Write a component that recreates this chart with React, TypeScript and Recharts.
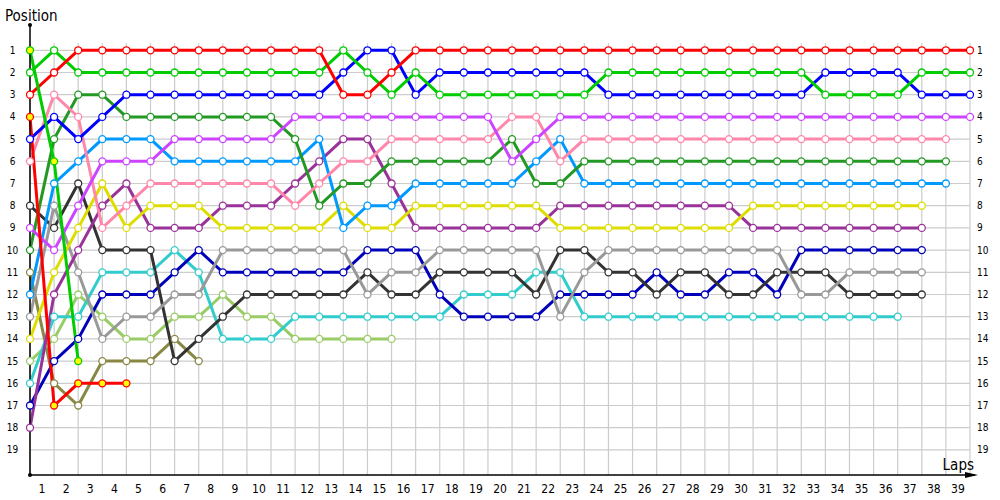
import { Line, LineChart, ReferenceLine, XAxis, YAxis } from "recharts";

// lap 0 = grid, then laps 1..39
const laps = Array.from({ length: 40 }, (_, i) => i);
const lapLabels = laps.slice(1);
const positions = Array.from({ length: 19 }, (_, i) => i + 1);

const red = [3, 2, 1, 1, 1, 1, 1, 1, 1, 1, 1, 1, 1, 3, 3, 2, 1, 1, 1, 1, 1, 1, 1, 1, 1, 1, 1, 1, 1, 1, 1, 1, 1, 1, 1, 1, 1, 1, 1, 1];
const green = [2, 1, 2, 2, 2, 2, 2, 2, 2, 2, 2, 2, 2, 1, 2, 3, 2, 3, 3, 3, 3, 3, 3, 3, 2, 2, 2, 2, 2, 2, 2, 2, 2, 3, 3, 3, 3, 2, 2, 2];
const blue = [5, 4, 5, 4, 3, 3, 3, 3, 3, 3, 3, 3, 3, 2, 1, 1, 3, 2, 2, 2, 2, 2, 2, 2, 3, 3, 3, 3, 3, 3, 3, 3, 3, 2, 2, 2, 2, 3, 3, 3];
const violet = [9, 10, 8, 6, 6, 6, 5, 5, 5, 5, 5, 4, 4, 4, 4, 4, 4, 4, 4, 4, 6, 5, 4, 4, 4, 4, 4, 4, 4, 4, 4, 4, 4, 4, 4, 4, 4, 4, 4, 4];
const pink = [6, 3, 4, 9, 8, 7, 7, 7, 7, 7, 7, 8, 7, 6, 6, 5, 5, 5, 5, 5, 4, 4, 6, 5, 5, 5, 5, 5, 5, 5, 5, 5, 5, 5, 5, 5, 5, 5, 5];
const darkGreen = [10, 5, 3, 3, 4, 4, 4, 4, 4, 4, 4, 5, 8, 7, 7, 6, 6, 6, 6, 6, 5, 7, 7, 6, 6, 6, 6, 6, 6, 6, 6, 6, 6, 6, 6, 6, 6, 6, 6];
const skyBlue = [12, 7, 6, 5, 5, 5, 6, 6, 6, 6, 6, 6, 5, 9, 8, 8, 7, 7, 7, 7, 7, 6, 5, 7, 7, 7, 7, 7, 7, 7, 7, 7, 7, 7, 7, 7, 7, 7, 7];
const yellow = [14, 11, 9, 7, 9, 8, 8, 8, 9, 9, 9, 9, 9, 8, 9, 9, 8, 8, 8, 8, 8, 8, 9, 9, 9, 9, 9, 9, 9, 9, 8, 8, 8, 8, 8, 8, 8, 8];
const purple = [18, 12, 10, 8, 7, 9, 9, 9, 8, 8, 8, 7, 6, 5, 5, 7, 9, 9, 9, 9, 9, 9, 8, 8, 8, 8, 8, 8, 8, 8, 9, 9, 9, 9, 9, 9, 9, 9];
const gray = [13, 8, 11, 14, 13, 13, 12, 12, 10, 10, 10, 10, 10, 10, 12, 11, 11, 10, 10, 10, 10, 10, 13, 11, 10, 10, 10, 10, 10, 10, 10, 10, 12, 12, 11, 11, 11, 11];
const black = [8, 9, 7, 10, 10, 10, 15, 14, 13, 12, 12, 12, 12, 12, 11, 12, 12, 11, 11, 11, 11, 12, 10, 10, 11, 11, 12, 11, 11, 12, 12, 11, 11, 11, 12, 12, 12, 12];
const darkBlue = [17, 15, 14, 12, 12, 12, 11, 10, 11, 11, 11, 11, 11, 11, 10, 10, 10, 12, 13, 13, 13, 13, 12, 12, 12, 12, 11, 12, 12, 11, 11, 12, 10, 10, 10, 10, 10, 10];
const cyan = [16, 13, 13, 11, 11, 11, 10, 11, 14, 14, 14, 13, 13, 13, 13, 13, 13, 13, 12, 12, 12, 11, 11, 13, 13, 13, 13, 13, 13, 13, 13, 13, 13, 13, 13, 13, 13];
const olive = [11, 16, 17, 15, 15, 15, 14, 15];
const lightGreen = [15, 14, 12, 13, 14, 14, 13, 13, 12, 13, 13, 14, 14, 14, 14, 14];
const redPit = [4, 17, 16, 16, 16];
const greenPit = [1, 6, 15];

const drivers = [
  { key: "olive", color: "#888844", values: olive },
  { key: "lightGreen", color: "#99cc66", values: lightGreen },
  { key: "cyan", color: "#33cccc", values: cyan },
  { key: "darkBlue", color: "#0000bb", values: darkBlue },
  { key: "black", color: "#333333", values: black },
  { key: "gray", color: "#999999", values: gray },
  { key: "purple", color: "#993399", values: purple },
  { key: "yellow", color: "#dddd00", values: yellow },
  { key: "skyBlue", color: "#0099ff", values: skyBlue },
  { key: "darkGreen", color: "#229922", values: darkGreen },
  { key: "pink", color: "#ff88aa", values: pink },
  { key: "violet", color: "#cc44ff", values: violet },
  { key: "blue", color: "#0000ff", values: blue },
  { key: "green", color: "#00cc00", values: green },
  { key: "red", color: "#ff0000", values: red },
  { key: "redPit", color: "#ff0000", values: redPit, fill: "#ffff00" },
  { key: "greenPit", color: "#00cc00", values: greenPit, fill: "#ffff00" },
];

const rows = laps.map((lap) => {
  const row: Record<string, number | null> = { lap };
  drivers.forEach((d) => {
    row[d.key] = d.values[lap] ?? null;
  });
  return row;
});

const font = "'DejaVu Sans Condensed', 'DejaVu Sans', sans-serif";
const gridColor = "#cccccc";

const LapTick = ({ x, y, payload }: any) => (
  <text x={x} y={y + 10} textAnchor="middle" fontSize={12} fontFamily={font} fill="#000">
    {payload.value + 0.5}
  </text>
);

const LeftTick = ({ x, y, payload }: any) => (
  <text x={x - 9.5} y={y + 3.5} textAnchor="middle" fontSize={10} fontFamily={font} fill="#000">
    {payload.value}
  </text>
);

const RightTick = ({ x, y, payload }: any) => (
  <text x={x - 1} y={y + 3.5} textAnchor="start" fontSize={10} fontFamily={font} fill="#000">
    {payload.value}
  </text>
);

const PositionTitle = ({ viewBox }: any) => (
  <g>
    <text x={viewBox.x + 5} y={viewBox.y - 4} fontSize={15} fontFamily={font} fill="#000">
      Position
    </text>
    <circle cx={viewBox.x + viewBox.width} cy={viewBox.y} r={2} fill="#000" />
  </g>
);

const LapsTitle = ({ viewBox }: any) => {
  const right = viewBox.x + viewBox.width;
  const base = viewBox.y;
  return (
    <g>
      <text x={right + 4} y={base - 5} textAnchor="end" fontSize={15} fontFamily={font} fill="#000">
        Laps
      </text>
      <path d={`M${right - 5},${base - 3} L${right + 8},${base} L${right - 5},${base + 3} Z`} fill="#000" />
      <line x1={right} y1={base} x2={right + 5} y2={base} stroke="#000" strokeWidth={1.5} />
      <circle cx={viewBox.x} cy={base} r={2} fill="#000" />
    </g>
  );
};

export default function App() {
  return (
    <div style={{ position: "absolute", left: 0, top: 0, width: 1000, height: 500, background: "#fff" }}>
      <LineChart width={1000} height={500} data={rows} margin={{ top: 25, right: 0, bottom: 0, left: 0 }}>
        {positions.map((p) => (
          <ReferenceLine
            key={`h${p}`}
            segment={[
              { x: 0, y: p },
              { x: 39, y: p },
            ]}
            stroke={gridColor}
            strokeWidth={1.2}
          />
        ))}
        {laps.map((lap) => (
          <ReferenceLine
            key={`v${lap}`}
            segment={[
              { x: lap, y: 0.68 },
              { x: lap, y: 20.13 },
            ]}
            stroke={gridColor}
            strokeWidth={1.2}
          />
        ))}
        <XAxis
          dataKey="lap"
          type="number"
          domain={[0, 39]}
          ticks={lapLabels.map((l) => l - 0.5)}
          interval={0}
          tickLine={false}
          axisLine={{ stroke: "#000", strokeWidth: 1.5 }}
          height={25}
          tick={<LapTick />}
          label={<LapsTitle />}
        />
        <YAxis
          type="number"
          reversed
          domain={[-0.14, 20.13]}
          allowDataOverflow
          ticks={positions}
          interval={0}
          width={30}
          tickLine={false}
          axisLine={{ stroke: "#000", strokeWidth: 1.5 }}
          tick={<LeftTick />}
          label={<PositionTitle />}
        />
        <YAxis
          yAxisId="right"
          orientation="right"
          type="number"
          reversed
          domain={[-0.14, 20.13]}
          allowDataOverflow
          ticks={positions}
          interval={0}
          width={30}
          tickLine={false}
          axisLine={false}
          tick={<RightTick />}
        />
        {drivers.map((d) => (
          <Line
            key={d.key}
            dataKey={d.key}
            type="linear"
            stroke={d.color}
            strokeWidth={3}
            dot={{ r: 3.5, fill: d.fill ?? "#fff", stroke: d.color, strokeWidth: 1.3 }}
            activeDot={false}
            isAnimationActive={false}
          />
        ))}
      </LineChart>
    </div>
  );
}
